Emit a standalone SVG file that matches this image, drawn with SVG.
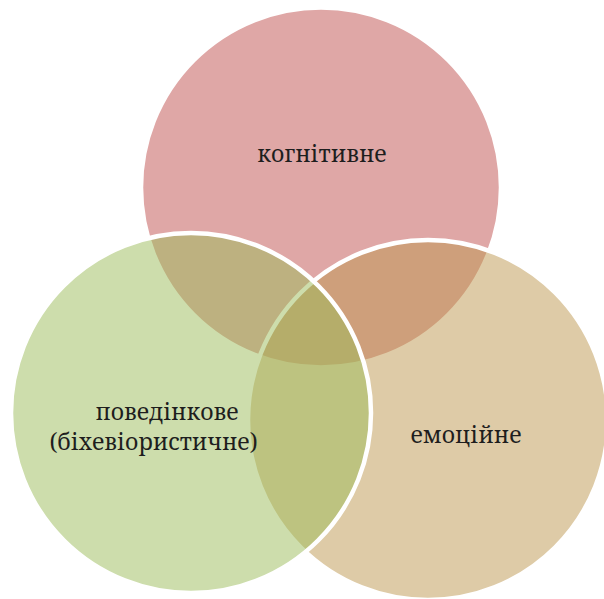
<svg xmlns="http://www.w3.org/2000/svg" width="604" height="599" viewBox="0 0 604 599">
<style>
.c{stroke:#fff;stroke-width:4.5;fill-opacity:0.5}
.t{font-family:'Noto Serif','DejaVu Serif','Liberation Serif',serif;font-size:23px;fill:#1e1e1e;text-anchor:middle}
</style>
<rect width="604" height="599" fill="#fff"/>
<g id="cognitive">
<circle class="c" cx="321" cy="187.5" r="180" fill="#C0504D"/>
</g>
<g id="emotional">
<circle class="c" cx="428" cy="420" r="180" fill="#BD974F"/>
</g>
<g id="behavioral">
<circle class="c" cx="191" cy="413" r="180" fill="#9BBB59"/>
</g>
<g id="labels">
<text class="t" x="322" y="162">когнітивне</text>
<text class="t" x="466" y="443">емоційне</text>
<text class="t" x="167" y="420">поведінкове</text>
<text class="t" x="153.5" y="450">(біхевіористичне)</text>
</g>
<g id="connectors"/>
</svg>
